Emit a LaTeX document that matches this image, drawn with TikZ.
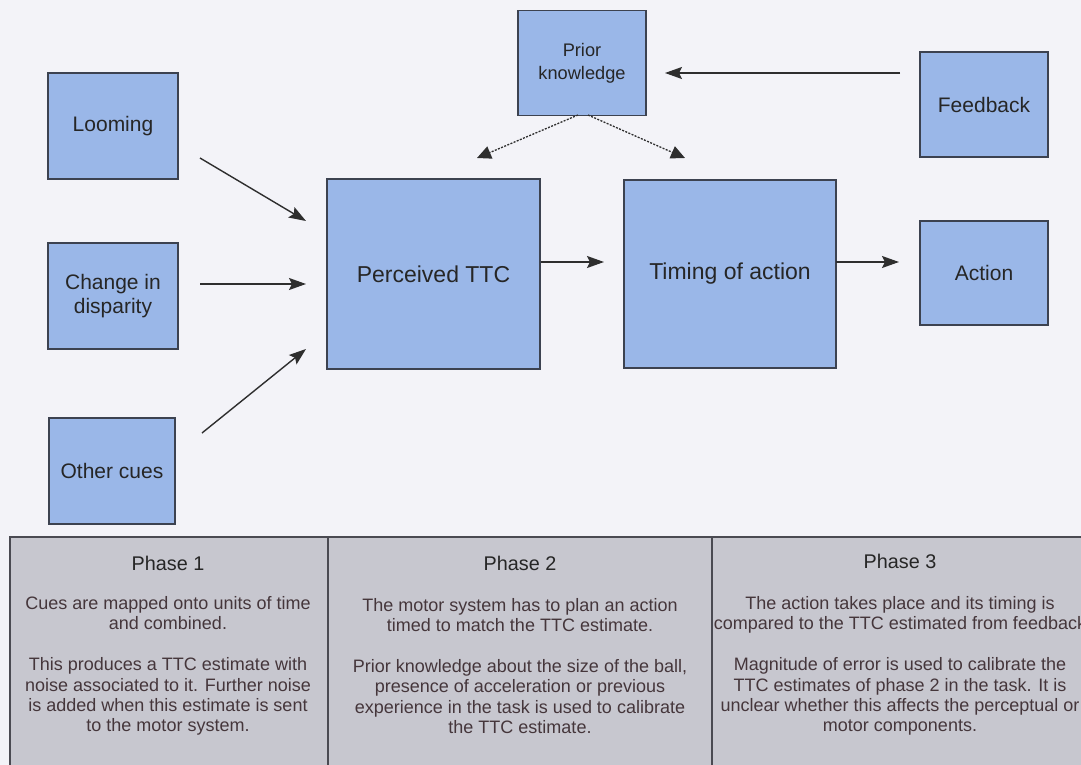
\documentclass[tikz,border=0pt]{standalone}
\usepackage{fontspec}
\setmainfont{Liberation Sans}
\usetikzlibrary{arrows.meta}

\definecolor{pagebg}{HTML}{F3F3F8}
\definecolor{boxfill}{HTML}{9AB7E8}
\definecolor{boxline}{HTML}{3C4250}
\definecolor{tablefill}{HTML}{C7C7CF}
\definecolor{tableline}{HTML}{4A4A52}
\definecolor{inktext}{HTML}{262626}
\definecolor{notetext}{HTML}{45363B}
\definecolor{arrowink}{HTML}{2E2E2E}

\begin{document}
\begin{tikzpicture}[x=1pt,y=-1pt,
  cuebox/.style={draw=boxline, line width=1.3pt, fill=boxfill, inner sep=0pt,
    align=center, text=inktext, font=\fontsize{21}{24.5}\selectfont},
  stagebox/.style={cuebox, font=\fontsize{23}{27}\selectfont},
  flow/.style={draw=arrowink, line width=1.4pt,
    -{Stealth[length=17pt,width=12pt,inset=3pt]}},
  hint/.style={draw=arrowink, line width=1.3pt, dash pattern=on 2pt off 1.4pt,
    -{Triangle[length=14pt,width=13pt]}},
  phasehead/.style={text=inktext, inner sep=0pt, font=\fontsize{19.8}{22}\selectfont},
  phasenote/.style={text=notetext, inner sep=0pt, align=center,
    font=\fontsize{18}{20.4}\selectfont}
]
\useasboundingbox (0,0) rectangle (1081,765);
\clip (0,0) rectangle (1081,765);
\fill[pagebg] (0,0) rectangle (1081,765);

% cue boxes
\node[cuebox, minimum width=130pt, minimum height=106pt] (loom) at (113,126) {Looming};
\node[cuebox, minimum width=130pt, minimum height=106pt] (chg) at (113,296) {Change in\\disparity};
\node[cuebox, minimum width=126pt, minimum height=106pt] (oth) at (112,471) {Other cues};

% processing stages
\node[stagebox, minimum width=213pt, minimum height=190pt] (pttc) at (433.5,274) {Perceived TTC};
\node[stagebox, minimum width=212pt, minimum height=188pt] (tim) at (730,274) {Timing of action};

\node[cuebox, font=\fontsize{18.2}{23}\selectfont, minimum width=128pt, minimum height=105pt] (prior) at (582,63) {Prior\\knowledge};
\node[cuebox, minimum width=128pt, minimum height=105pt] (fb) at (984,104.5) {Feedback};
\node[cuebox, minimum width=128pt, minimum height=104pt] (act) at (984,273) {Action};

% free ends of the connectors
\coordinate (loomout) at (200,158);
\coordinate (pttcinA) at (306,221);
\coordinate (chgout) at (200,284);
\coordinate (pttcinB) at (306,284);
\coordinate (othout) at (202,433);
\coordinate (pttcinC) at (306,349);
\coordinate (pttcout) at (541,262);
\coordinate (timin) at (604,262);
\coordinate (timout) at (836,262);
\coordinate (actin) at (899,262);
\coordinate (fbout) at (900,73);
\coordinate (priorin) at (665,73);
\coordinate (priorL) at (578,115);
\coordinate (priorR) at (588,115);
\coordinate (hintL) at (477,158);
\coordinate (hintR) at (685,158);

\draw[flow] (loomout) -- (pttcinA);
\draw[flow] (chgout) -- (pttcinB);
\draw[flow] (othout) -- (pttcinC);
\draw[flow] (pttcout) -- (timin);
\draw[flow] (timout) -- (actin);
\draw[flow] (fbout) -- (priorin);
\draw[hint] (priorL) -- (hintL);
\draw[hint] (priorR) -- (hintR);

% phase table
\path[fill=tablefill] (10,537) rectangle (1095,780);
\draw[tableline, line width=1.4pt] (10,780) -- (10,537) -- (1095,537);
\draw[tableline, line width=1.2pt] (328,537) -- (328,780);
\draw[tableline, line width=1.2pt] (712,537) -- (712,780);

\node[phasehead] (h1) at (168,563) {Phase 1};
\node[phasehead] (h2) at (520,563) {Phase 2};
\node[phasehead] (h3) at (900,561) {Phase 3};

\node[phasenote] (n1) at (168,666) {Cues are mapped onto units of time\\and combined.\\[20.4pt]This produces a TTC estimate with\\noise associated to it. Further noise\\is added when this estimate is sent\\to the motor system.};
\node[phasenote] (n2) at (520,666) {The motor system has to plan an action\\timed to match the TTC estimate.\\[20.4pt]Prior knowledge about the size of the ball,\\presence of acceleration or previous\\experience in the task is used to calibrate\\the TTC estimate.};
\node[phasenote] (n3) at (900,666) {The action takes place and its timing is\\compared to the TTC estimated from feedback\\[20.4pt]Magnitude of error is used to calibrate the\\TTC estimates of phase 2 in the task. It is\\unclear whether this affects the perceptual or\\motor components.};
\end{tikzpicture}
\end{document}
